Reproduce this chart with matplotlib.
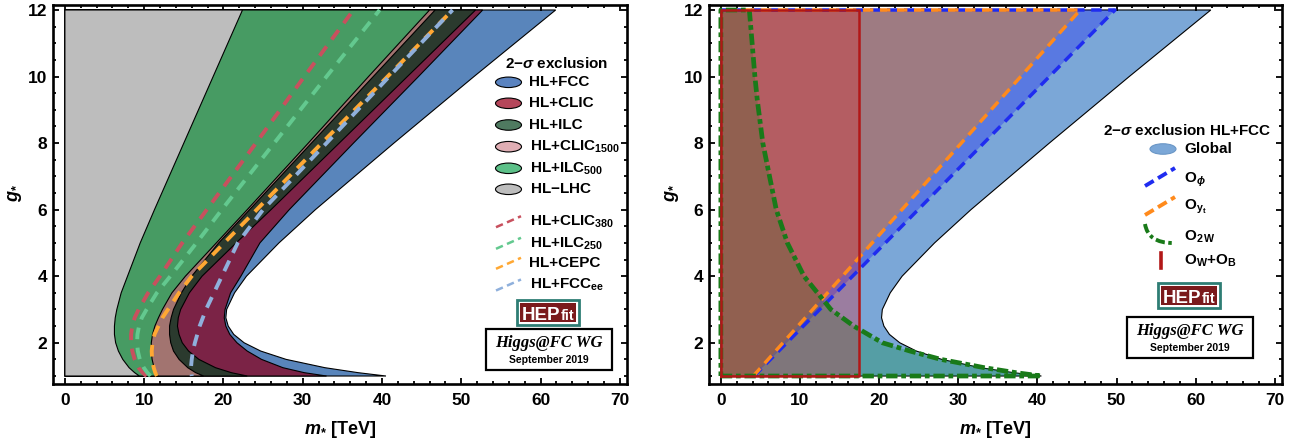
import numpy as np
import matplotlib
matplotlib.use("Agg")
import matplotlib.pyplot as plt
from matplotlib.patches import Ellipse, Rectangle, PathPatch
from matplotlib.lines import Line2D
from matplotlib.path import Path
from matplotlib.ticker import MultipleLocator

plt.rcParams['font.family'] = ['Liberation Sans', 'DejaVu Sans']
plt.rcParams['font.weight'] = 'bold'
plt.rcParams['mathtext.fontset'] = 'custom'
plt.rcParams['mathtext.rm'] = 'Liberation Sans:bold'
plt.rcParams['mathtext.it'] = 'Liberation Sans:italic:bold'
plt.rcParams['mathtext.bf'] = 'Liberation Sans:bold'

# ---------------- data: boundary m* [TeV] of each excluded region vs g* ----------------
g_star = [1.0, 1.1, 1.25, 1.5, 1.75, 2.0, 2.25, 2.5, 2.75, 3.0, 3.5, 4.0, 5.0, 6.0, 8.0, 10.0, 12.0]

m_hl_fcc     = [40.5, 37.0, 32.8, 27.9, 24.7, 22.6, 21.3, 20.6, 20.3, 20.4, 21.4, 22.9, 27.0, 31.6, 41.5, 51.6, 61.9]
m_hl_clic    = [33.0, 30.2, 27.5, 24.8, 23.0, 21.7, 20.8, 20.3, 20.1, 20.2, 20.9, 22.2, 24.6, 28.3, 36.4, 44.6, 52.7]
m_hl_ilc     = [23.0, 21.0, 19.0, 16.9, 15.6, 14.8, 14.4, 14.2, 14.3, 14.6, 15.7, 17.3, 21.6, 26.0, 34.6, 43.2, 51.8]
m_hl_clic1500 = [17.5, 16.5, 15.5, 14.4, 13.7, 13.35, 13.2, 13.2, 13.4, 13.7, 14.7, 16.0, 19.4, 23.3, 31.1, 38.9, 46.7]
m_hl_ilc500  = [11.8, 11.5, 11.25, 11.0, 10.9, 10.9, 11.05, 11.35, 11.8, 12.3, 13.5, 15.2, 19.1, 23.0, 30.7, 38.3, 46.0]
m_hl_lhc     = [9.4, 8.8, 8.1, 7.3, 6.75, 6.4, 6.25, 6.25, 6.35, 6.55, 7.1, 7.9, 9.5, 11.3, 15.0, 18.7, 22.4]

m_hl_clic380 = [10.3, 9.8, 9.3, 8.8, 8.5, 8.35, 8.35, 8.5, 8.8, 9.3, 10.5, 12.0, 14.8, 17.9, 24.1, 30.2, 36.4]
m_hl_ilc250  = [10.8, 10.4, 9.95, 9.45, 9.2, 9.1, 9.15, 9.35, 9.7, 10.3, 11.6, 13.3, 16.6, 19.8, 26.4, 33.0, 39.7]
m_hl_cepc    = [11.6, 11.4, 11.2, 11.0, 10.95, 11.05, 11.3, 11.8, 12.3, 13.0, 14.4, 16.0, 20.1, 24.2, 32.4, 40.7, 48.9]
m_hl_fccee   = [16.0, 15.95, 15.9, 16.0, 16.15, 16.4, 16.7, 17.0, 17.4, 17.8, 18.8, 19.8, 21.8, 25.0, 33.0, 40.9, 48.9]

# single-operator bounds, HL+FCC
g_line = [1.0, 12.0]
m_o_phi = [4.2, 49.8]
m_o_yt = [4.1, 45.4]
g_o_2w = [1.0, 1.1, 1.25, 1.5, 1.75, 2.0, 2.5, 3.0, 4.0, 5.0, 6.0, 8.0, 9.3, 10.0, 12.0]
m_o_2w = [40.5, 37.3, 33.3, 27.8, 23.9, 20.4, 16.8, 13.9, 10.5, 8.4, 7.0, 5.3, 4.6, 4.3, 3.6]
m_o_wb = 17.4

g_min, g_max = 1.0, 12.0

W, H = 1299, 443
fig = plt.figure(figsize=(W / 100, H / 100), dpi=100)


def fx(px):
    return px / W


def fy(py):
    return 1 - py / H


def frame(ax, ylab_px):
    ax.set_xlim(-1.5, 70.9)
    ax.set_ylim(0.775, 12.165)
    ax.xaxis.set_major_locator(MultipleLocator(10))
    ax.xaxis.set_minor_locator(MultipleLocator(2))
    ax.yaxis.set_major_locator(MultipleLocator(2))
    ax.yaxis.set_minor_locator(MultipleLocator(0.5))
    ax.tick_params(which='both', direction='in', top=True, right=True, width=1.3, labelsize=12.5)
    ax.tick_params(which='major', length=4.0)
    ax.tick_params(which='minor', length=2.4)
    ax.tick_params(axis='x', pad=7)
    ax.tick_params(axis='y', pad=4)
    for lab in ax.get_xticklabels() + ax.get_yticklabels():
        lab.set_fontweight('bold')
    for s in ax.spines.values():
        s.set_linewidth(1.9)
    ax.set_xlabel(r'$m_{*}$ [TeV]', fontsize=13, fontweight='bold', labelpad=8)
    fig.text(fx(ylab_px), fy(193), r'$g_{*}$', fontsize=13, fontweight='bold',
             rotation=90, ha='center', va='center')


def region(ax, m_vals, g_vals, **kw):
    xs = [0.0] + list(m_vals) + [0.0]
    ys = [g_vals[0]] + list(g_vals) + [g_vals[-1]]
    return ax.fill(xs, ys, **kw)


axL = fig.add_axes([fx(53), fy(383.5), fx(627) - fx(53), fy(4.5) - fy(383.5)])
axR = fig.add_axes([fx(709), fy(383.5), fx(1282) - fx(709), fy(4.5) - fy(383.5)])

# ---------------- left panel: combined fits ----------------
fills_left = [
    (m_hl_fcc, '#5985bb'),
    (m_hl_clic, '#7b2346'),
    (m_hl_ilc, '#2b3a2e'),
    (m_hl_clic1500, '#a27470'),
    (m_hl_ilc500, '#479b63'),
    (m_hl_lhc, '#bdbdbd'),
]
for i, (mv, col) in enumerate(fills_left):
    region(axL, mv, g_star, facecolor=col, edgecolor='black', linewidth=0.8, zorder=1 + i)

dash_left = [
    (m_hl_clic380, '#c8505e', 0),
    (m_hl_ilc250, '#63c98f', 0),
    (m_hl_cepc, '#ffa833', 0),
    (m_hl_fccee, '#8fb0dc', 2.6),
]
for mv, col, off in dash_left:
    axL.plot(mv, g_star, color=col, linewidth=2.8, zorder=10,
             linestyle=(off, (3.0, 2.2)), solid_capstyle='butt', dash_capstyle='butt')
frame(axL, 15)

# ---------------- right panel: single-operator bounds ----------------
region(axR, m_hl_fcc, g_star, facecolor='#7ba7d7', edgecolor='black', linewidth=0.8, zorder=1)

phi_x = [0.0] + m_o_phi + [0.0]
phi_y = [g_min] + g_line + [g_max]
axR.fill(phi_x, phi_y, facecolor=(0.0, 0.0, 1.0, 0.27), edgecolor='none', zorder=2)
yt_x = [0.0] + m_o_yt + [0.0]
yt_y = [g_min] + g_line + [g_max]
axR.fill(yt_x, yt_y, facecolor=(1.0, 0.5, 0.0, 0.42), edgecolor='none', zorder=3)
w2_x = [0.0] + m_o_2w + [0.0]
w2_y = [g_min] + g_o_2w + [g_max]
axR.fill(w2_x, w2_y, facecolor=(0.0, 0.55, 0.2, 0.30), edgecolor='none', zorder=4)
axR.fill([0, m_o_wb, m_o_wb, 0], [g_min, g_min, g_max, g_max],
         facecolor=(0.95, 0.05, 0.05, 0.27), edgecolor='none', zorder=5)

# region outlines: diagonal edge and top edge of the O_phi / O_yt regions
axR.plot(phi_x[1:], phi_y[1:], color='#1f2cf0', linewidth=2.5,
         linestyle=(0, (3.0, 1.9)), zorder=6)
axR.plot(yt_x[1:], yt_y[1:], color='#ff8a1c', linewidth=2.5,
         linestyle=(0, (3.0, 1.9)), zorder=7)
axR.plot(w2_x + [0.0], w2_y + [g_min], color='#197a19', linewidth=3.4,
         linestyle=(0, (2.4, 0.8, 1.0, 0.8)), zorder=8)
axR.plot([0, 0, m_o_wb, m_o_wb, 0], [g_min, g_max, g_max, g_min, g_min],
         color='#b21717', linewidth=1.8, zorder=9)
frame(axR, 672)

# ---------------- legends ----------------
def ftext(x, y, s, size=11, **kw):
    fig.text(fx(x), fy(y), s, fontsize=size, fontweight='bold', va='center', **kw)


def fellipse(x, y, col, ec='black'):
    fig.add_artist(Ellipse((fx(x), fy(y)), 26 / W, 10.5 / H, transform=fig.transFigure,
                           facecolor=col, edgecolor=ec, linewidth=0.8))


def fline(xs, ys, col, lw, ls):
    fig.add_artist(Line2D([fx(v) for v in xs], [fy(v) for v in ys], transform=fig.transFigure,
                          color=col, linewidth=lw, linestyle=ls))


def hepfit(x0, y0):
    fig.add_artist(Rectangle((fx(x0), fy(y0 + 25)), 62 / W, 25 / H, transform=fig.transFigure,
                             facecolor='white', edgecolor='#2e7d74', linewidth=2.0))
    fig.add_artist(Rectangle((fx(x0 + 3), fy(y0 + 22)), 56 / W, 19 / H, transform=fig.transFigure,
                             facecolor='#7a1a1c', edgecolor='none'))
    fig.text(fx(x0 + 5), fy(y0 + 20), 'HEP', fontsize=13.5, fontweight='bold', color='white',
             va='baseline', ha='left')
    fig.text(fx(x0 + 43.5), fy(y0 + 20), 'fit', fontsize=10.5, fontweight='bold', color='white',
             va='baseline', ha='left')


def wg_box(x0, y0, w, h):
    fig.add_artist(Rectangle((fx(x0), fy(y0 + h)), w / W, h / H, transform=fig.transFigure,
                             facecolor='white', edgecolor='black', linewidth=1.6))
    fig.text(fx(x0 + w / 2), fy(y0 + h * 0.33), 'Higgs@FC WG', fontsize=12, style='italic',
             family=['Liberation Serif', 'DejaVu Serif'], fontweight='bold',
             ha='center', va='center')
    fig.text(fx(x0 + w / 2), fy(y0 + h * 0.76), 'September 2019', fontsize=7.5,
             fontweight='bold', ha='center', va='center')


# left legend
ftext(557, 64, r'2$-\sigma$ exclusion', ha='center')
left_entries = [
    ('HL+FCC', '#5a83c0', 82.3),
    ('HL+CLIC', '#b5465a', 103.3),
    ('HL+ILC', '#4f7a60', 125.0),
    (r'HL+CLIC$_{1500}$', '#e0aeb4', 146.7),
    (r'HL+ILC$_{500}$', '#5cc088', 168.3),
    ('HL$-$LHC', '#bdbdbd', 189.3),
]
for lab, col, yy in left_entries:
    fellipse(508.5, yy, col)
    ftext(529.5, yy, lab, ha='left')
left_dash = [
    (r'HL+CLIC$_{380}$', '#c8505e', 221.7),
    (r'HL+ILC$_{250}$', '#63c98f', 243.3),
    ('HL+CEPC', '#ffa833', 263.3),
    (r'HL+FCC$_{\mathrm{ee}}$', '#8fb0dc', 285.0),
]
for lab, col, yy in left_dash:
    fline([496, 521], [yy + 5.5, yy - 5.5], col, 1.8, (0, (3.0, 1.8)))
    ftext(529.5, yy, lab, ha='left')
hepfit(517, 300)
wg_box(486, 329, 126, 41)

# right legend
ftext(1103, 130, r'2$-\sigma$ exclusion HL+FCC', ha='left')
fellipse(1163, 149, '#7ba7d7', ec='#6a96c6')
ftext(1184, 149, 'Global', ha='left')
fline([1145, 1175], [186, 168], '#1f2cf0', 2.8, (0, (2.6, 1.3)))
ftext(1184, 180, r'O$_{\phi}$', ha='left')
fline([1145, 1175], [215, 197], '#ff8a1c', 2.8, (0, (2.6, 1.3)))
ftext(1184, 207, r'O$_{\mathrm{y}_{\mathrm{t}}}$', ha='left')
curve = Path([(fx(1145), fy(224)), (fx(1148), fy(243)), (fx(1173), fy(243))],
             [Path.MOVETO, Path.CURVE3, Path.CURVE3])
fig.add_artist(PathPatch(curve, transform=fig.transFigure, facecolor='none', edgecolor='#197a19',
                         linewidth=2.8, linestyle=(0, (2.4, 0.9, 0.9, 0.9))))
ftext(1184, 237, r'O$_{\mathrm{2\,W}}$', ha='left')
fline([1161, 1161], [253, 268], '#b21717', 2.6, '-')
ftext(1184, 261, r'O$_{\mathrm{W}}$+O$_{\mathrm{B}}$', ha='left')
hepfit(1158, 283)
wg_box(1127, 317, 126, 41)

fig.savefig('out.png', dpi=100)
